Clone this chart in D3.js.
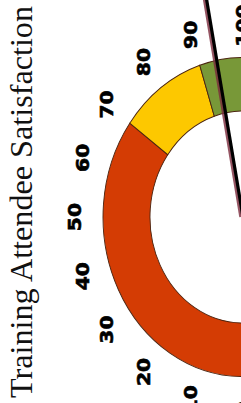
<!DOCTYPE html>
<html>
<head>
<meta charset="utf-8">
<script src="https://cdn.jsdelivr.net/npm/d3@7"></script>
<style>
  html, body { margin: 0; padding: 0; background: #fff; }
  svg { display: block; }
</style>
</head>
<body>
<div class="chart-container"></div>
<script>
// gauge data
const title = "Training Attendee Satisfaction"
const bandFrom = [0, 70, 90]
const bandTo = [70, 90, 100]
const tickValues = [0, 10, 20, 30, 40, 50, 60, 70, 80, 90, 100]
const needleValue = 94

const bandColors = ["#d43c04", "#fdc800", "#789838"]

function createChart(){

	var width = 241, height = 403

	const svg = d3.select(".chart-container").append("svg")
		.attr("width", width)
		.attr("height", height)

	//Title runs bottom-to-top along the left edge
	svg.append("text")
		.attr("transform", "translate(32,398) rotate(-90)")
		.attr("font-family", "'Liberation Serif', 'Times New Roman', serif")
		.attr("font-size", 31)
		.attr("fill", "#111")
		.attr("textLength", 392)
		.attr("lengthAdjust", "spacingAndGlyphs")
		.text(title)

	//The gauge is drawn upright and then turned on its side (and a bit stretched, like the picture)
	const g = svg.append("g")
		.attr("transform", "translate(243,217) scale(1,1.14) rotate(-90)")

	//value -> angle, 0 on the left, 100 on the right
	const angle = d3.scaleLinear()
		.domain([0, 100])
		.range([-Math.PI / 2, Math.PI / 2])

	const arc = d3.arc()
		.innerRadius(93)
		.outerRadius(140)

	g.selectAll("path.band")
		.data(bandFrom)
		.join("path")
		.attr("class", "band")
		.attr("d", (d, i) => arc({startAngle: angle(d), endAngle: angle(bandTo[i])}))
		.attr("fill", (d, i) => bandColors[i])
		.attr("stroke", "#4b2410")
		.attr("stroke-width", 0.9)

	//Tick labels
	const labelRadius = 168
	g.selectAll("text.tick")
		.data(tickValues)
		.join("text")
		.attr("class", "tick")
		.attr("transform", d => `translate(${labelRadius * Math.sin(angle(d))},${-labelRadius * Math.cos(angle(d))}) scale(1.05,1)`)
		.attr("text-anchor", "middle")
		.attr("dominant-baseline", "central")
		.attr("font-family", "'DejaVu Sans', sans-serif")
		.attr("font-weight", "bold")
		.attr("font-size", 17)
		.attr("stroke", "#000")
		.attr("stroke-width", 0.6)
		.attr("fill", "#000")
		.text(d => d)

	//Needle
	const needleLength = 235
	const a = angle(needleValue)
	const nx = needleLength * Math.sin(a), ny = -needleLength * Math.cos(a)

	g.append("line")
		.attr("x1", 0).attr("y1", -2)
		.attr("x2", nx).attr("y2", ny - 2)
		.attr("stroke", "#7a2a3c")
		.attr("stroke-opacity", 0.8)
		.attr("stroke-width", 3.5)

	g.append("line")
		.attr("x1", 0).attr("y1", 0)
		.attr("x2", nx).attr("y2", ny)
		.attr("stroke", "#000")
		.attr("stroke-width", 3.2)
}

createChart()
</script>
</body>
</html>
